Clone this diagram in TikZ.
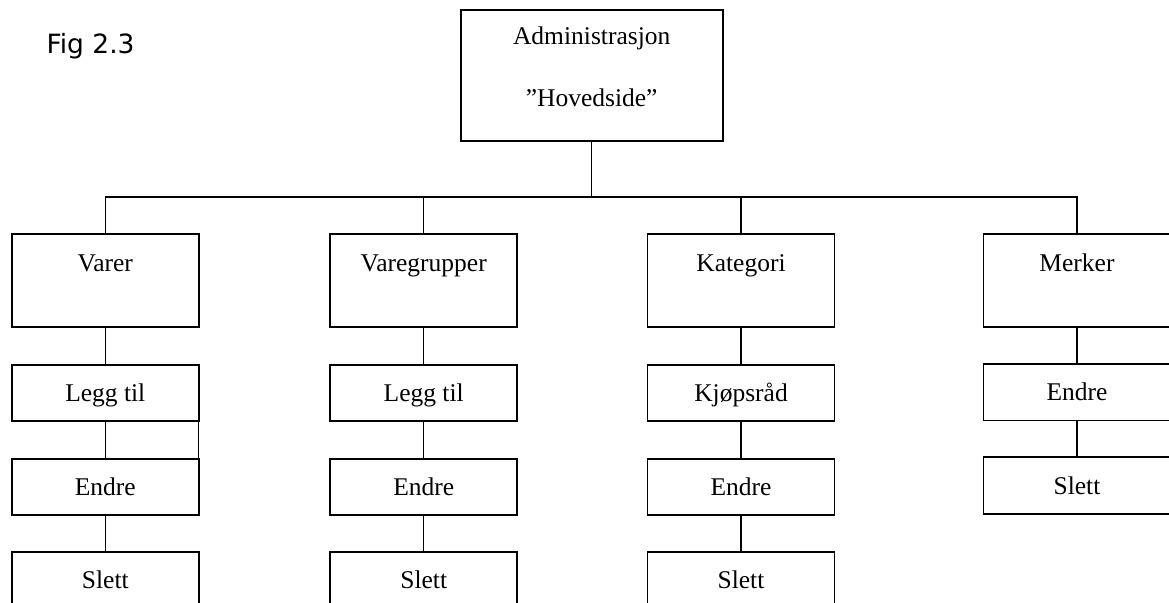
\documentclass[tikz,border=0pt]{standalone}
\usepackage{fontspec}
\setmainfont{Liberation Serif}
\newfontfamily\figfont{DejaVu Sans}
\begin{document}
\begin{tikzpicture}[x=1pt,y=-1pt,
  every node/.style={inner sep=0pt, outer sep=0pt, font=\fontsize{25.5pt}{30pt}\selectfont},
  box/.style={draw, line width=1.8pt, minimum width=187pt},
  bigbox/.style={box, text height=37.7pt, text depth=55.6pt},
  smallbox/.style={box, text height=36.7pt, text depth=19.6pt},
  conn/.style={line width=1.3pt}]
\useasboundingbox (0,0) rectangle (1169,602);
\clip (0,0) rectangle (1169,602);
\fill[white] (0,0) rectangle (1169,602);

\node[anchor=base west, font=\figfont\fontsize{26.5pt}{30pt}\selectfont] (fig) at (46.5,53.3) {Fig 2.3};

\node[box, minimum width=262pt, text height=35pt, text depth=95.7pt,
  label={[anchor=base, yshift=-96pt, font=\fontsize{25.5pt}{30pt}\selectfont]north:”Hovedside”}]
  (adm) at (591.7,75.35) {Administrasjon};

\coordinate (bus) at (0,197);

% column 1
\node[bigbox] (varer) at (105.3,280.65) {Varer};
\node[smallbox] (vlegg) at (105.3,393.15) {Legg til};
\node[smallbox] (vendre) at (105.3,486.85) {Endre};
\node[smallbox] (vslett) at (105.3,580.15) {Slett};
% column 2
\node[bigbox] (vgr) at (423.7,280.65) {Varegrupper};
\node[smallbox] (glegg) at (423.7,393.15) {Legg til};
\node[smallbox] (gendre) at (423.7,486.85) {Endre};
\node[smallbox] (gslett) at (423.7,580.15) {Slett};
% column 3
\node[bigbox] (kat) at (741,280.65) {Kategori};
\node[smallbox] (kraad) at (741,393.15) {Kjøpsråd};
\node[smallbox] (kendre) at (741,486.85) {Endre};
\node[smallbox] (kslett) at (741,580.15) {Slett};
% column 4
\node[bigbox] (merker) at (1077,280.65) {Merker};
\node[smallbox] (mendre) at (1077,392.35) {Endre};
\node[smallbox] (mslett) at (1077,485.45) {Slett};

% connectors
\draw[conn] (adm.south) -- (adm.south |- bus);
\draw[conn] (varer.north) -- (varer.north |- bus) -- (merker.north |- bus) -- (merker.north);
\draw[conn] (vgr.north) -- (vgr.north |- bus);
\draw[conn] (kat.north) -- (kat.north |- bus);

\draw[conn] (varer) -- (vlegg);
\draw[conn] (vlegg) -- (vendre);
\draw[conn] (vlegg.south east) -- (vendre.north east);
\draw[conn] (vendre) -- (vslett);

\draw[conn] (vgr) -- (glegg);
\draw[conn] (glegg) -- (gendre);
\draw[conn] (gendre) -- (gslett);

\draw[conn] (kat) -- (kraad);
\draw[conn] (kraad) -- (kendre);
\draw[conn] (kendre) -- (kslett);

\draw[conn] (merker) -- (mendre);
\draw[conn] (mendre) -- (mslett);
\end{tikzpicture}
\end{document}
